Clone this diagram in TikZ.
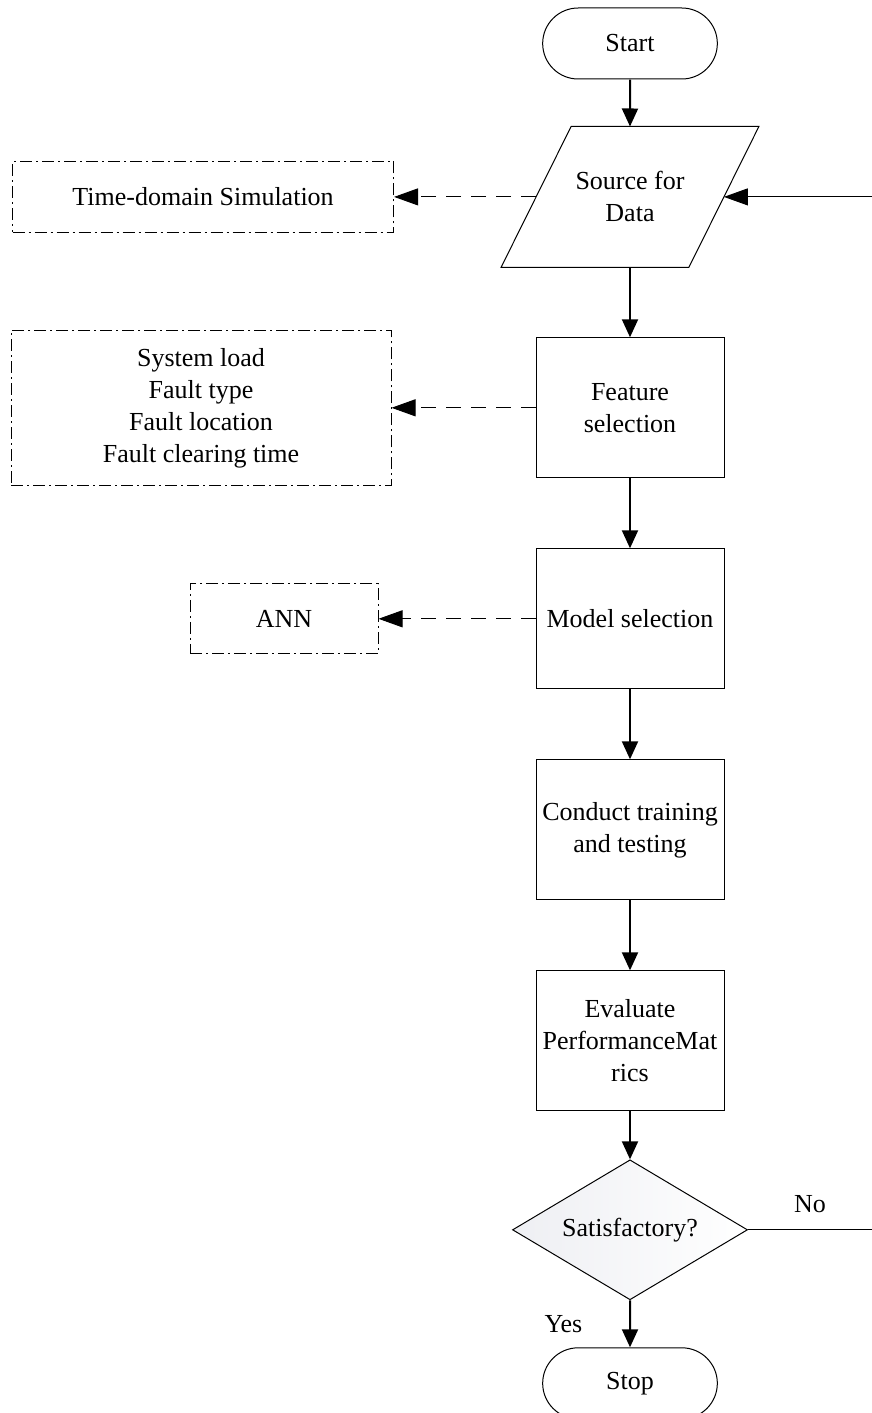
\documentclass[tikz,border=0pt]{standalone}
\usepackage{fontspec}
\setmainfont{Liberation Serif}
\usetikzlibrary{arrows.meta,shapes.geometric,shapes.misc,positioning,calc}
\definecolor{decisionColor}{RGB}{238,239,243}
\tikzset{terminal/.style={draw, rounded rectangle, minimum width=94pt, minimum height=35.5pt, line width=0.5pt}}
\tikzset{process/.style={draw, rectangle, align=center, minimum width=94pt, minimum height=70pt, inner sep=2pt, line width=0.5pt}}
\tikzset{io/.style={rectangle, align=center, minimum width=93.5pt, minimum height=70pt, inner sep=2pt}}
\tikzset{decision/.style={draw, diamond, align=center, shape aspect=1.68, minimum width=117.5pt, minimum height=70pt, inner sep=1pt, line width=0.5pt, left color=decisionColor, right color=white}}
\tikzset{note/.style={draw, rectangle, align=center, line width=0.5pt, dash pattern=on 6pt off 2pt on 1pt off 2pt}}
\tikzset{flow/.style={line width=1pt, -{Triangle[length=9pt, width=8pt]}}}
\tikzset{link/.style={line width=0.5pt, dash pattern=on 7.5pt off 5pt, -{Triangle[length=12pt, width=8.5pt]}}}
\tikzset{feedback/.style={line width=0.5pt, -{Triangle[length=12pt, width=8.5pt]}}}

\begin{document}
\begin{tikzpicture}[font=\fontsize{13}{16}\selectfont, node distance=35pt and 71pt]
\useasboundingbox (0,0) rectangle (436pt,-706.5pt);
% Nodes
\node (Start) [terminal] at (315pt,-21.75pt) {Start};

\node (DataSource) [io, below=23.5pt of Start] {Source for\\ Data};
% slanted outline of the input box
\draw [line width=0.5pt] ($(DataSource.north west)+(17.5pt,0)$) -- ($(DataSource.north east)+(17.5pt,0)$) -- ($(DataSource.south east)+(-17.5pt,0)$) -- ($(DataSource.south west)+(-17.5pt,0)$) -- cycle;

\node (FeatureSelection) [process, below=of DataSource] {Feature\\ selection};

\node (ModelSelection) [process, below=of FeatureSelection] {Model selection};

\node (TrainTest) [process, below=of ModelSelection] {Conduct training\\ and testing};

\node (Evaluate) [process, below=of TrainTest] {Evaluate\\ PerformanceMat\\ rics};

\node (Satisfactory) [decision, below=24pt of Evaluate] {Satisfactory?};

\node (Stop) [terminal, below=23.5pt of Satisfactory] {Stop};

\node (TimeDomainSim) [note, minimum width=190.5pt, minimum height=35.5pt, left=71pt of DataSource] {Time-domain Simulation};

\node (FeatureList) [note, minimum width=190pt, minimum height=77.5pt, left=72pt of FeatureSelection] {System load\\ Fault type\\ Fault location\\ Fault clearing time};

\node (ANN) [note, minimum width=94pt, minimum height=35pt, left=78.5pt of ModelSelection] {ANN};

\coordinate (RightEdge) at (436pt,0);

% Connectors
\draw [flow] (Start) -- (DataSource);
\draw [flow] (DataSource) -- (FeatureSelection);
\draw [flow] (FeatureSelection) -- (ModelSelection);
\draw [flow] (ModelSelection) -- (TrainTest);
\draw [flow] (TrainTest) -- (Evaluate);
\draw [flow] (Evaluate) -- (Satisfactory);
\draw [flow] (Satisfactory) -- node[left=20pt] {Yes} (Stop);

\draw [link] (DataSource.west) -- (TimeDomainSim.east);
\draw [link] (FeatureSelection.west) -- (FeatureList.east);
\draw [link] (ModelSelection.west) -- (ANN.east);

\draw [feedback] (Satisfactory.east) -- node[above=5pt] {No} (Satisfactory.east -| RightEdge) |- (DataSource.east);

\end{tikzpicture}
\end{document}
